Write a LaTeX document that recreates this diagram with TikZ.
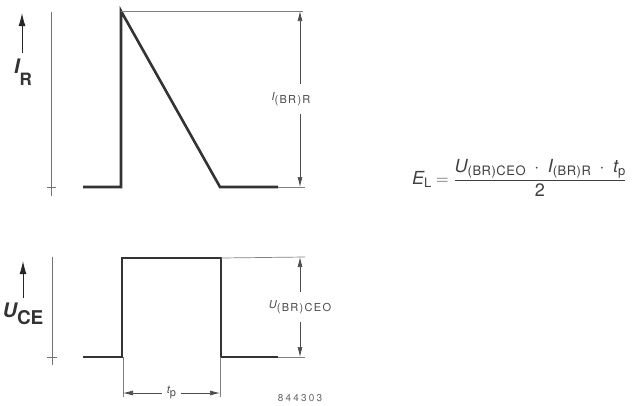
\documentclass[tikz,border=0pt]{standalone}
\usepackage{amsmath}
\usepackage{fontspec}
\setmainfont{TeX Gyre Heros}
\usetikzlibrary{arrows.meta,positioning,calc}
\tikzset{
  wave/.style  ={draw=black!80,line width=2.6pt,line join=miter,line cap=butt},
  refl/.style  ={draw=black!50,line width=.7pt},
  axis/.style  ={draw=black!55,line width=.9pt},
  sig/.style   ={-{Latex[length=13pt,width=7pt]},draw=black!85,line width=1pt},
  dim/.style   ={{Latex[length=10pt,width=5pt]}-{Latex[length=10pt,width=5pt]},
                 draw=black!70,line width=.7pt},
  big/.style   ={font=\fontsize{20}{20}\selectfont\bfseries,inner sep=0pt,text=black!80},
  dlbl/.style  ={font=\fontsize{11}{11}\selectfont\addfontfeature{LetterSpace=12},
                 fill=white,inner xsep=1pt,inner ysep=8pt,text=black!70},
  fml/.style   ={font=\fontsize{18}{18}\selectfont,inner sep=0pt,text=black!75},
}
\newcommand{\fsub}[1]{\raisebox{-3pt}{\fontsize{13}{13}\selectfont\addfontfeature{LetterSpace=4}#1}}
\begin{document}
\begin{tikzpicture}[x=1pt,y=-1pt]
  \useasboundingbox (0,0) rectangle (634,405);
  % ---- upper trace: I_R
  \coordinate (ia) at (51,12);  \coordinate (ib) at (51,196);
  \draw[axis] (ia) -- (ib);
  \draw[axis] (47,187) -- (56,187);
  \coordinate (ir0) at (22,53); \coordinate (ir1) at (22,13);
  \draw[sig] (ir0) -- (ir1);
  \node[big] (IR) at (23,72) {\itshape I\raisebox{-12pt}{\fontsize{17}{17}\selectfont\upshape R}};
  \coordinate (ipk) at (121,11);  \coordinate (iend) at (278,187);
  \draw[wave] (83,187) -- (121,187) -- (ipk) -- (220,187) -- (iend);
  \coordinate (itop) at (303,11); \coordinate (ibot) at (305,187);
  \draw[refl] (ipk) -- (itop);
  \draw[refl] (iend) -- (ibot);
  \coordinate (id1) at (300,11); \coordinate (id2) at (300,187);
  \draw[dim] (id1) -- (id2) node[dlbl,midway,xshift=-9pt] (IBR)
        {\itshape I\raisebox{-3pt}{\upshape (BR)R}};
  % ---- lower trace: U_CE
  \coordinate (ua) at (52,257);  \coordinate (ub) at (52,365);
  \draw[axis] (ua) -- (ub);
  \draw[axis] (47,357) -- (57,357);
  \coordinate (ur0) at (23,298); \coordinate (ur1) at (23,261);
  \draw[sig] (ur0) -- (ur1);
  \node[big] (UCE) at (23,314) {\itshape U\raisebox{-7pt}{\fontsize{19}{19}\selectfont\upshape CE}};
  \coordinate (ul) at (122,258);  \coordinate (ur) at (221,258);  \coordinate (uend) at (278,357);
  \draw[wave] (83,357) -- (122,357) -- (ul) -- (ur) -- (221,357) -- (uend);
  \coordinate (utop) at (305,257); \coordinate (ubot) at (305,357);
  \draw[refl] (ur) -- (utop);
  \draw[refl] (uend) -- (ubot);
  \coordinate (ud1) at (300,257); \coordinate (ud2) at (300,357);
  \draw[dim] (ud1) -- (ud2) node[dlbl,midway] (UBR)
        {\itshape U\raisebox{-3pt}{\upshape (BR)CEO}};
  % pulse width
  \coordinate (tl) at (123,397); \coordinate (tr) at (220,397);
  \draw[refl] (123,357) -- (tl);
  \draw[refl] (220,357) -- (tr);
  \coordinate (tl2) at (123,393); \coordinate (tr2) at (220,393);
  \draw[dim] (tl2) -- (tr2) node[dlbl,midway,inner ysep=1pt,inner xsep=5pt] (TP)
        {\itshape t\raisebox{-3pt}{\upshape p}};
  \node[font=\fontsize{10}{10}\selectfont\addfontfeature{LetterSpace=22},text=black!60,inner sep=0pt]
        (fig) at (300,398) {844303};
  % ---- energy
  \node[fml,anchor=west] (EL) at (412,178)
        {$\mbox{\itshape E\fsub{\upshape L}} = \dfrac{\mbox{\itshape U\fsub{\upshape (BR)CEO}}\;\cdot\;\mbox{\itshape I\fsub{\upshape (BR)R}}\;\cdot\;\mbox{\itshape t\fsub{\upshape p}}}{\mbox{2}}$};
\end{tikzpicture}
\end{document}
